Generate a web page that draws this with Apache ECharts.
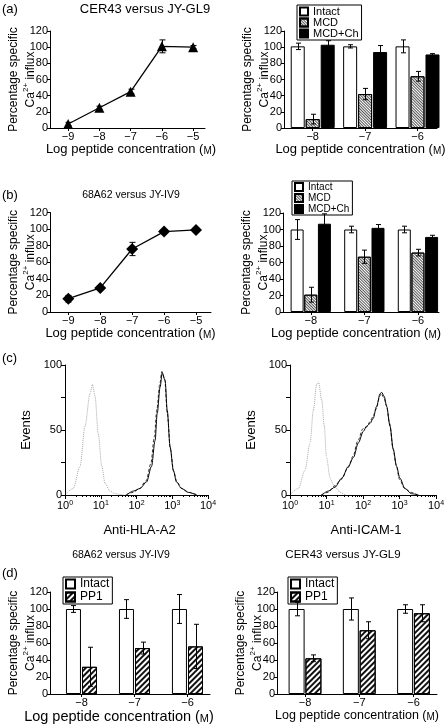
<!DOCTYPE html>
<html><head><meta charset="utf-8">
<script src="https://cdn.jsdelivr.net/npm/echarts@6/dist/echarts.min.js"></script>
<style>html,body{margin:0;padding:0;background:#fff}#c{width:448px;height:724px}</style>
</head><body><div id="c"></div>
<script>
// ---------------- data ----------------
const lineX = [-9, -8, -7, -6, -5];
const aLineY = [5, 25, 45, 101, 100];
const aLineErr = [2, 2, 3, 8, 2];
const bLineY = [16, 29, 76, 97, 99];
const bLineErr = [4, 2, 8, 2, 2];

const barX = [-8, -7, -6];
const aIntact = [101, 101, 101], aIntactErr = [4, 2, 8];
const aMCD = [11, 42, 64], aMCDErr = [6, 7, 6];
const aMCDCh = [103, 94, 91], aMCDChErr = [5, 8, 1];
const bIntact = [100, 100, 100], bIntactErr = [12, 4, 4];
const bMCD = [21, 67, 72], bMCDErr = [9, 8, 4];
const bMCDCh = [107, 102, 91], bMCDChErr = [12, 4, 2];
const dLIntact = [100, 100, 100], dLIntactErr = [4, 11, 17];
const dLPP1 = [32, 54, 56], dLPP1Err = [23, 7, 26];
const dRIntact = [100, 100, 100], dRIntactErr = [8, 13, 5];
const dRPP1 = [42, 75, 95], dRPP1Err = [4, 10, 10];

const pctTicks = [0, 20, 40, 60, 80, 100, 120];
const decadeTicks = [0, 1, 2, 3, 4];

// flow cytometry histograms: x = log10(fluorescence), y = events
const hlaIsoX = [0.03, 0.23, 0.42, 0.56, 0.70, 0.77, 0.84, 0.93, 1.03, 1.12, 1.26, 1.40, 1.63];
const hlaIsoY = [1, 5, 22, 53, 78, 85, 76, 47, 22, 9, 3, 1, 0];
const hlaSolidX = [1.72, 1.91, 2.10, 2.28, 2.42, 2.52, 2.58, 2.66, 2.72, 2.80, 2.86, 2.94, 3.03, 3.12, 3.26, 3.45, 3.68];
const hlaSolidY = [0, 3, 5, 10, 22, 42, 63, 83, 94, 88, 65, 37, 19, 10, 5, 2, 0];
const hlaDashX = [1.70, 1.90, 2.08, 2.27, 2.40, 2.50, 2.57, 2.65, 2.71, 2.79, 2.86, 2.95, 3.04, 3.13, 3.27, 3.47, 3.70];
const hlaDashY = [0, 2, 5, 11, 24, 45, 66, 85, 95, 89, 63, 35, 18, 10, 5, 2, 0];
const icamIsoX = [0.03, 0.23, 0.41, 0.55, 0.64, 0.73, 0.78, 0.87, 0.94, 1.00, 1.10, 1.19, 1.28, 1.37, 1.51];
const icamIsoY = [1, 5, 19, 40, 65, 85, 87, 73, 53, 29, 13, 8, 5, 2, 0];
const icamSolidX = [0.87, 1.05, 1.23, 1.42, 1.60, 1.74, 1.87, 2.01, 2.10, 2.19, 2.28, 2.37, 2.47, 2.51, 2.58, 2.65, 2.74, 2.83, 2.92, 3.01, 3.15, 3.33, 3.52];
const icamSolidY = [0, 3, 6, 13, 22, 29, 40, 49, 53, 55, 59, 68, 78, 79, 76, 68, 53, 35, 22, 13, 5, 1, 0];
const icamDashX = [0.85, 1.04, 1.22, 1.41, 1.59, 1.73, 1.86, 2.00, 2.09, 2.18, 2.27, 2.36, 2.46, 2.50, 2.57, 2.64, 2.73, 2.82, 2.91, 3.00, 3.14, 3.32, 3.50];
const icamDashY = [0, 2, 7, 12, 21, 30, 42, 51, 52, 56, 60, 66, 76, 78, 75, 69, 55, 36, 23, 12, 5, 2, 0];

// ---------------- helpers ----------------
const FONT = '"Liberation Sans", Arial, sans-serif';
const grids = [], xAxes = [], yAxes = [], series = [];

function fmtNeg(v) { return v < 0 ? '\u2212' + Math.abs(v) : String(v); }
const pepName = '{t|Log peptide concentration (}{m|M}{t|)}';
function pepStyle(size, pad) {
  return { color: '#000', fontFamily: FONT, padding: pad || 0,
    rich: { t: { fontSize: size, fontFamily: FONT, color: '#000' },
            m: { fontSize: Math.round(size * 0.78), fontFamily: FONT, color: '#000', verticalAlign: 'bottom' } } };
}
const yName = '{t|Percentage specific}\n{t|Ca}{s|2+}{t| influx}';
function yNameStyle(size) {
  return { color: '#000', fontFamily: FONT,
    rich: { t: { fontSize: size, fontFamily: FONT, color: '#000', lineHeight: size + 5 },
            s: { fontSize: Math.round(size * 0.65), fontFamily: FONT, color: '#000', verticalAlign: 'top', lineHeight: 9 } } };
}
function addGrid(left, top, width, height) {
  grids.push({ left, top, width, height, containLabel: false, outerBoundsMode: 'none' });
  return grids.length - 1;
}
function xVal(g, min, max, ticks, nameCfg) {
  xAxes.push(Object.assign({
    type: 'value', gridIndex: g, min, max,
    axisLine: { show: true, onZero: false, lineStyle: { color: '#000', width: 1 } },
    axisTick: { show: true, customValues: ticks, length: 3, lineStyle: { color: '#000' } },
    axisLabel: { customValues: ticks, formatter: fmtNeg, fontSize: 11, color: '#000', margin: 3, fontFamily: FONT },
    splitLine: { show: false }, minorTick: { show: false },
    nameLocation: 'middle', nameMoveOverlap: false
  }, nameCfg));
}
function yPct(g, nameGap, nameSize, labelSize) {
  yAxes.push({
    type: 'value', gridIndex: g, min: 0, max: 120, interval: 20,
    axisLine: { show: true, lineStyle: { color: '#000', width: 1 } },
    axisTick: { show: true, length: 3, lineStyle: { color: '#000' } },
    axisLabel: { fontSize: labelSize || 11, color: '#000', margin: 2, fontFamily: FONT },
    splitLine: { show: false },
    name: yName, nameLocation: 'middle', nameRotate: 90, nameGap, nameMoveOverlap: false,
    nameTextStyle: yNameStyle(nameSize || 12)
  });
}
function addErr(g, xs, vals, errs, offset, cap) {
  series.push({
    type: 'custom', xAxisIndex: g, yAxisIndex: g, z: 10, silent: true,
    data: xs.map((x, i) => [x, vals[i], errs[i]]),
    renderItem: (p, api) => {
      const x = api.value(0), v = api.value(1), e = api.value(2);
      const t = api.coord([x, v + e]), b = api.coord([x, v - e]);
      const cx = Math.round(t[0] + offset) + 0.5, h = cap / 2;
      const st = { stroke: '#000', lineWidth: 1 };
      return { type: 'group', children: [
        { type: 'line', shape: { x1: cx, y1: t[1], x2: cx, y2: b[1] }, style: st },
        { type: 'line', shape: { x1: cx - h, y1: t[1], x2: cx + h, y2: t[1] }, style: st },
        { type: 'line', shape: { x1: cx - h, y1: b[1], x2: cx + h, y2: b[1] }, style: st }
      ] };
    }
  });
}
function addBars(g, xs, list, w, gap) {
  const n = list.length, total = n * w + (n - 1) * w * gap;
  list.forEach((s, i) => {
    series.push({ type: 'bar', name: s.name, xAxisIndex: g, yAxisIndex: g,
      data: xs.map((x, j) => [x, s.vals[j]]), barWidth: w, barGap: (gap * 100) + '%',
      itemStyle: s.style, z: 2, silent: true });
    addErr(g, xs, s.vals, s.errs, -total / 2 + i * w * (1 + gap) + w / 2, 5);
  });
}
function addLine(g, xs, ys, errs, symbol, size) {
  series.push({ type: 'line', xAxisIndex: g, yAxisIndex: g, data: xs.map((x, i) => [x, ys[i]]),
    symbol, symbolSize: size, showSymbol: true, itemStyle: { color: '#000' },
    lineStyle: { color: '#000', width: 1.3 }, z: 3, silent: true });
  addErr(g, xs, ys, errs, 0, 6);
}
function addHist(g, xs, ys, color, type, width) {
  series.push({ type: 'line', xAxisIndex: g, yAxisIndex: g, data: xs.map((x, i) => [x, ys[i]]),
    symbol: 'none', showSymbol: false, smooth: 0.3, smoothMonotone: 'x',
    lineStyle: { color, width: width || 1, type }, z: 3, silent: true });
}

const sIntact = { color: '#fff', borderColor: '#000', borderWidth: 1 };
const sMCD = { color: '#fff', borderColor: '#000', borderWidth: 1,
  decal: { symbol: 'rect', symbolSize: 1, dashArrayX: [1, 0], dashArrayY: [1, 1], rotation: Math.PI / 4, color: '#555' } };
const sMCDCh = { color: '#000', borderColor: '#000', borderWidth: 1 };
const sPP1 = { color: '#fff', borderColor: '#000', borderWidth: 1,
  decal: { symbol: 'rect', symbolSize: 1, dashArrayX: [1, 0], dashArrayY: [1.2, 1.3], rotation: -Math.PI / 4, color: '#111' } };

// ---------------- panel (a) ----------------
let g = addGrid(50, 31, 155, 97);
xVal(g, -9.58, -4.62, lineX, { name: pepName, nameGap: 15, nameTextStyle: pepStyle(13, [0, 0, 0, 7]) });
yPct(g, 11, 12);
addLine(g, lineX, aLineY, aLineErr, 'triangle', 10);

g = addGrid(284, 31, 153, 97);
xVal(g, -8.548, -5.628, barX, { name: pepName, nameGap: 15, nameTextStyle: pepStyle(13) });
yPct(g, 11, 12);
addBars(g, barX, [
  { name: 'Intact', vals: aIntact, errs: aIntactErr, style: sIntact },
  { name: 'MCD', vals: aMCD, errs: aMCDErr, style: sMCD },
  { name: 'MCD+Ch', vals: aMCDCh, errs: aMCDChErr, style: sMCDCh }
], 14, 0.07);

// ---------------- panel (b) ----------------
g = addGrid(50, 212.5, 161, 99.5);
xVal(g, -9.574, -4.53, lineX, { name: pepName, nameGap: 15, nameTextStyle: pepStyle(13) });
yPct(g, 11, 12);
addLine(g, lineX, bLineY, bLineErr, 'diamond', 12);

g = addGrid(283, 213, 156, 99);
xVal(g, -8.518, -5.607, barX, { name: pepName, nameGap: 15, nameTextStyle: pepStyle(13, [0, 10, 0, 0]) });
yPct(g, 11, 12);
addBars(g, barX, [
  { name: 'Intact', vals: bIntact, errs: bIntactErr, style: sIntact },
  { name: 'MCD', vals: bMCD, errs: bMCDErr, style: sMCD },
  { name: 'MCD+Ch', vals: bMCDCh, errs: bMCDChErr, style: sMCDCh }
], 13, 0.05);

// ---------------- panel (c) ----------------
function decadeFmt(v) { return '{b|10}{s|' + v + '}'; }
const decRich = { b: { fontSize: 11, fontFamily: FONT, color: '#000' },
                  s: { fontSize: 7, fontFamily: FONT, color: '#000', verticalAlign: 'top', lineHeight: 8 } };
function histAxes(g, name) {
  xAxes.push({ type: 'value', gridIndex: g, min: 0, max: 4, interval: 1,
    axisLine: { show: true, onZero: false, lineStyle: { color: '#000' } },
    axisTick: { show: true, length: 4, lineStyle: { color: '#000' } },
    axisLabel: { formatter: decadeFmt, rich: decRich, margin: 5, color: '#000' },
    splitLine: { show: false },
    name, nameLocation: 'middle', nameGap: 29, nameMoveOverlap: false,
    nameTextStyle: { fontSize: 13, color: '#000', fontFamily: FONT, padding: [0, 0, 0, 6] } });
  yAxes.push({ type: 'value', gridIndex: g, min: 0, max: 100, interval: 25,
    axisLine: { show: true, lineStyle: { color: '#000' } },
    axisTick: { show: true, length: 4, lineStyle: { color: '#000' } },
    axisLabel: { formatter: v => (v % 50 === 0 ? String(v) : ''), fontSize: 11, color: '#000', margin: 3, fontFamily: FONT },
    splitLine: { show: false },
    name: 'Events', nameLocation: 'middle', nameRotate: 90, nameGap: 32, nameMoveOverlap: false,
    nameTextStyle: { fontSize: 13, color: '#000', fontFamily: FONT } });
}
const gC1 = addGrid(65, 365, 143, 130);
histAxes(gC1, 'Anti-HLA-A2');
addHist(gC1, hlaIsoX, hlaIsoY, '#a8a8a8', 'dotted', 1);
addHist(gC1, hlaDashX, hlaDashY, '#333', [3, 2], 1);
addHist(gC1, hlaSolidX, hlaSolidY, '#000', 'solid', 1);

const gC2 = addGrid(290, 365, 146, 130);
histAxes(gC2, 'Anti-ICAM-1');
addHist(gC2, icamIsoX, icamIsoY, '#a8a8a8', 'dotted', 1);
addHist(gC2, icamDashX, icamDashY, '#333', [3, 2], 1);
addHist(gC2, icamSolidX, icamSolidY, '#000', 'solid', 1);

// ---------------- panel (d) ----------------
g = addGrid(50, 592, 160, 102);
xVal(g, -8.594, -5.575, barX, { name: pepName, nameGap: 15, nameTextStyle: pepStyle(14.5, [0, 22, 0, 0]) });
yPct(g, 11, 12);
addBars(g, barX, [
  { name: 'Intact', vals: dLIntact, errs: dLIntactErr, style: sIntact },
  { name: 'PP1', vals: dLPP1, errs: dLPP1Err, style: sPP1 }
], 15, 0.07);

g = addGrid(277, 592, 160, 102);
xVal(g, -8.516, -5.567, barX, { name: pepName, nameGap: 15, nameTextStyle: pepStyle(12.5) });
yPct(g, 11, 12);
addBars(g, barX, [
  { name: 'Intact', vals: dRIntact, errs: dRIntactErr, style: sIntact },
  { name: 'PP1', vals: dRPP1, errs: dRPP1Err, style: sPP1 }
], 16, 0.05);

// minor log ticks for the histogram x axes
const minorLog = [];
for (let d = 0; d < 4; d++) for (let k = 2; k < 10; k++) minorLog.push(d + Math.log10(k));
[gC1, gC2].forEach(gi => xAxes.push({ type: 'value', gridIndex: gi, min: 0, max: 4, position: 'bottom',
  axisLine: { show: false }, axisLabel: { show: false }, splitLine: { show: false },
  axisTick: { show: true, customValues: minorLog, length: 2, lineStyle: { color: '#000' } } }));

// ---------------- legends ----------------
function legendCfg(names, left, top, fs, iw, gap) {
  return { data: names, left, top, orient: 'vertical', icon: 'rect', itemWidth: iw, itemHeight: iw, itemGap: gap,
    padding: [1, 3, 1, 2], borderColor: '#000', borderWidth: 1, selectedMode: false,
    textStyle: { fontSize: fs, lineHeight: fs, color: '#000', fontFamily: FONT } };
}

// ---------------- texts ----------------
function txt(text, x, y, size, align) {
  return { type: 'text', x, y, silent: true,
    style: { text, fill: '#000', font: size + 'px ' + FONT, align: align || 'left', verticalAlign: 'middle',
             textAlign: align || 'left', textVerticalAlign: 'middle' } };
}

const option = {
  animation: false,
  backgroundColor: '#fff',
  textStyle: { fontFamily: FONT },
  grid: grids, xAxis: xAxes, yAxis: yAxes, series,
  legend: [
    legendCfg(['Intact', 'MCD', 'MCD+Ch'], 297, 5, 11, 8, 0),
    legendCfg(['Intact', 'MCD', 'MCD+Ch'], 292, 181, 10, 8, 1),
    legendCfg(['Intact', 'PP1'], 63, 577, 12, 9, 1),
    legendCfg(['Intact', 'PP1'], 288, 577, 12, 9, 1)
  ],
  graphic: [
    txt('(a)', 2, 9, 13), txt('CER43 versus JY-GL9', 145, 9, 13, 'center'),
    txt('(b)', 2, 195, 13), txt('68A62 versus JY-IV9', 131, 195, 10.5, 'center'),
    txt('(c)', 2, 358, 13),
    txt('(d)', 2, 573, 13), txt('68A62 versus JY-IV9', 121, 555, 10.5, 'center'),
    txt('CER43 versus JY-GL9', 343, 555, 11.5, 'center')
  ]
};
const chart = echarts.init(document.getElementById('c'));
chart.setOption(option);
</script></body></html>
